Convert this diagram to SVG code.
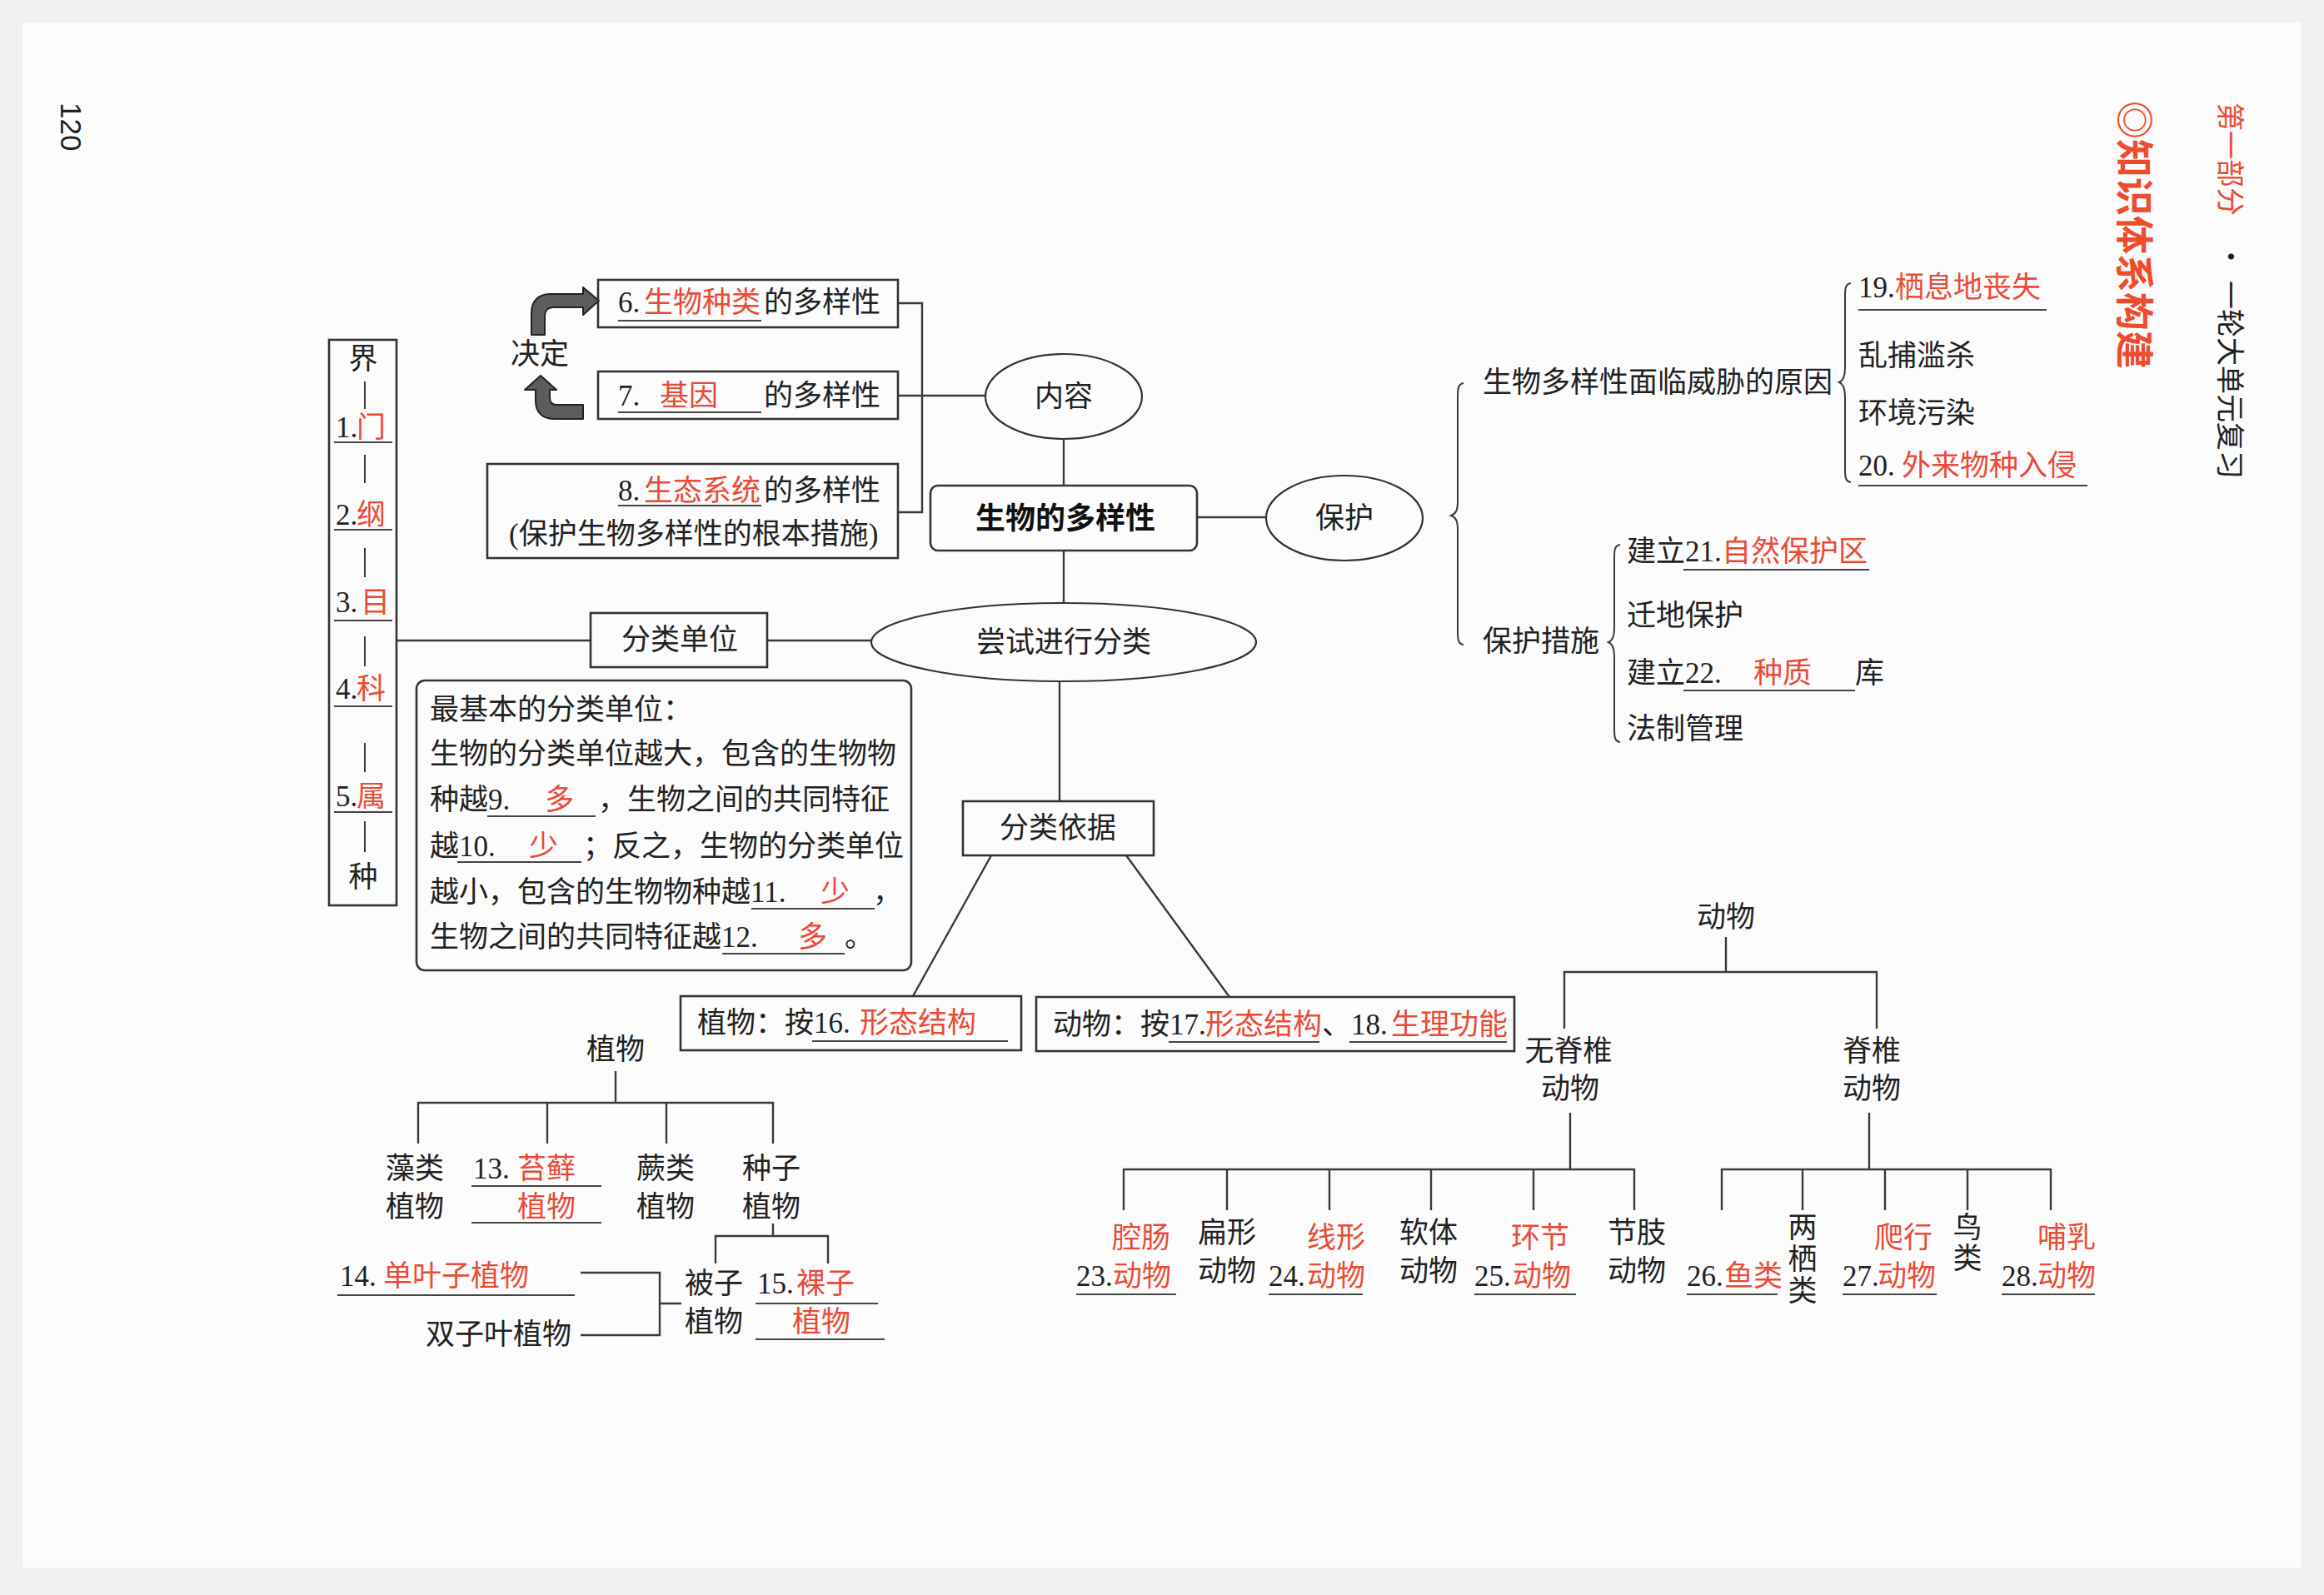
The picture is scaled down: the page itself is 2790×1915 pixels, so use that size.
<svg xmlns="http://www.w3.org/2000/svg" width="2790" height="1915" viewBox="0 0 2790 1915">
<style>
text { font-family: "Liberation Serif", "Noto Sans CJK SC", serif; font-size: 35px; fill: #222; }
.r { fill: #e94b35; font-family: "Noto Sans CJK SC", sans-serif; }
.m { text-anchor: middle; }
.sans { font-family: "Noto Sans CJK SC", sans-serif; }
.vt { writing-mode: vertical-rl; text-orientation: upright; letter-spacing: 3px; font-family: "Noto Sans CJK SC", sans-serif; }
.box { fill: none; stroke: #333; stroke-width: 2.6; }
.ell { fill: none; stroke: #333; stroke-width: 2.2; }
.ln { fill: none; stroke: #3a3a3a; stroke-width: 2.4; }
.ul { fill: none; stroke: #444; stroke-width: 2; }
.arrow { fill: #5c5c5c; stroke: #222; stroke-width: 2; stroke-linejoin: round; }
</style>
<rect x="0" y="0" width="2790" height="1915" fill="#f1f1f1"/>
<rect x="27" y="27" width="2735" height="1855" fill="#fcfcfc"/>

<g id="header">
  <text transform="translate(73,123) rotate(90)" style="font-family:'Liberation Sans',sans-serif;font-size:35px">120</text>
  <text transform="translate(2665,123) rotate(90)" class="sans" style="font-size:34px"><tspan fill="#e94b35">第一部分</tspan><tspan x="168">·</tspan><tspan x="214">一轮大单元复习</tspan></text>
  <text transform="translate(2546,121) rotate(90)" class="sans" style="font-size:46px;font-weight:700;fill:#ef4c2e">◎知识体系构建</text>
</g>

<g id="connectors">
  <path class="ln" d="M1078 364 H1107 V615 H1078"/>
  <path class="ln" d="M1078 475 H1183"/>
  <path class="ln" d="M1277 527 V583"/>
  <path class="ln" d="M1277 661 V724"/>
  <path class="ln" d="M1437 621 H1520"/>
  <path class="ln" d="M476 769 H709"/>
  <path class="ln" d="M921 769 H1046"/>
  <path class="ln" d="M1272 818 V962"/>
  <path class="ln" d="M1190 1027 L1096 1196"/>
  <path class="ln" d="M1352 1027 L1476 1197"/>
  <path class="arrow" d="M638 402 L638 376 C638 362 646 353 660 353 L700 353 L700 345 L719 361 L700 378 L700 369 L664 369 C658 369 654 373 654 380 L654 402 Z"/>
  <path class="arrow" d="M700 486 L668 486 C663 486 660 483 660 477 L660 468 L668 468 L649 451 L630 468 L643 468 L643 481 C643 495 651 503 666 503 L700 503 Z"/>
</g>

<g id="kingdom-column">
  <rect class="box" x="395" y="408" width="81" height="679"/>
  <text class="m" x="436" y="443">界</text>
  <path class="ln" d="M438 458 V491 M438 546 V580 M438 658 V693 M438 764 V800 M438 892 V927 M438 986 V1023" style="stroke-width:2"/>
  <text y="525"><tspan x="403">1.</tspan><tspan class="r" x="428">门</tspan></text>
  <text y="630"><tspan x="403">2.</tspan><tspan class="r" x="428">纲</tspan></text>
  <text y="735"><tspan x="403">3.</tspan><tspan class="r" x="433">目</tspan></text>
  <text y="839"><tspan x="403">4.</tspan><tspan class="r" x="428">科</tspan></text>
  <text y="968"><tspan x="403">5.</tspan><tspan class="r" x="428">属</tspan></text>
  <path class="ul" d="M401 531 H471 M401 636 H471 M401 745 H471 M401 848 H471 M401 975 H471"/>
  <text class="m" x="436" y="1065">种</text>
</g>

<g id="decide">
  <text x="613" y="437">决定</text>
</g>

<g id="species-diversity">
  <rect class="box" x="718" y="336" width="360" height="57"/>
  <text y="375"><tspan x="742">6.</tspan><tspan class="r" x="773">生物种类</tspan><tspan x="917">的多样性</tspan></text>
  <path class="ul" d="M742 385 H914"/>
</g>

<g id="gene-diversity">
  <rect class="box" x="718" y="446" width="360" height="57"/>
  <text y="487"><tspan x="742">7.</tspan><tspan class="r" x="792">基因</tspan><tspan x="917">的多样性</tspan></text>
  <path class="ul" d="M742 495 H914"/>
</g>

<g id="ecosystem-diversity">
  <rect class="box" x="585" y="557" width="493" height="113"/>
  <text y="601"><tspan x="742">8.</tspan><tspan class="r" x="773">生态系统</tspan><tspan x="917">的多样性</tspan></text>
  <path class="ul" d="M742 607 H914"/>
  <text x="611" y="653">(保护生物多样性的根本措施)</text>
</g>

<g id="content">
  <ellipse class="ell" cx="1277" cy="476" rx="94" ry="51"/>
  <text class="m" x="1277" y="488">内容</text>
</g>

<g id="biodiversity">
  <rect class="box" x="1117" y="583" width="320" height="78" rx="9"/>
  <text class="m sans" x="1279" y="635" style="font-weight:700;font-size:36px;fill:#111">生物的多样性</text>
</g>

<g id="protect">
  <ellipse class="ell" cx="1614" cy="622" rx="94" ry="51"/>
  <text class="m" x="1614" y="634">保护</text>
</g>

<g id="classify">
  <ellipse class="ell" cx="1277" cy="771" rx="231" ry="47"/>
  <text class="m" x="1277" y="783">尝试进行分类</text>
</g>

<g id="unit">
  <rect class="box" x="709" y="736" width="212" height="65"/>
  <text class="m" x="816" y="780">分类单位</text>
</g>

<g id="unit-note">
  <rect class="box" x="500" y="817" width="594" height="348" rx="10"/>
  <text x="516" y="864">最基本的分类单位：</text>
  <text x="516" y="917">生物的分类单位越大，包含的生物物</text>
  <text y="972"><tspan x="516">种越9.</tspan><tspan class="r" x="654">多</tspan><tspan x="718">，生物之间的共同特征</tspan></text>
  <path class="ul" d="M585 980 H715"/>
  <text y="1028"><tspan x="516">越10.</tspan><tspan class="r" x="635">少</tspan><tspan x="700">；反之，生物的分类单位</tspan></text>
  <path class="ul" d="M549 1035 H698"/>
  <text y="1083"><tspan x="516">越小，包含的生物物种越11.</tspan><tspan class="r" x="985">少</tspan><tspan x="1048">，</tspan></text>
  <path class="ul" d="M902 1091 H1050"/>
  <text y="1137"><tspan x="516">生物之间的共同特征越12.</tspan><tspan class="r" x="958">多</tspan><tspan x="1014">。</tspan></text>
  <path class="ul" d="M867 1145 H1014"/>
</g>

<g id="basis">
  <rect class="box" x="1156" y="962" width="229" height="65"/>
  <text class="m" x="1270" y="1006">分类依据</text>
</g>

<g id="plant-basis">
  <rect class="box" x="817" y="1196" width="409" height="65"/>
  <text y="1240"><tspan x="837">植物：按16.</tspan><tspan class="r" x="1032">形态结构</tspan></text>
  <path class="ul" d="M975 1250 H1210"/>
</g>

<g id="animal-basis">
  <rect class="box" x="1244" y="1197" width="574" height="65"/>
  <text y="1242"><tspan x="1264">动物：按17.</tspan><tspan class="r" x="1447">形态结构</tspan><tspan x="1587">、18.</tspan><tspan class="r" x="1670">生理功能</tspan></text>
  <path class="ul" d="M1403 1251 H1584 M1620 1251 H1809"/>
</g>

<g id="plant-tree">
  <path class="ln" d="M739 1286 V1324 M502 1373 V1324 H928 V1373 M657 1324 V1373 M800 1324 V1373 M928 1469 V1484 M859 1517 V1484 H994 V1517 M697 1528 H792 V1603 H697 M792 1565 H818"/>
  <text class="m" x="739" y="1272">植物</text>
  <text class="m" x="498" y="1415">藻类</text>
  <text class="m" x="498" y="1461">植物</text>
  <text y="1415"><tspan x="568">13.</tspan><tspan class="r" x="621">苔藓</tspan></text>
  <text class="r" x="621" y="1461">植物</text>
  <path class="ul" d="M566 1424 H722 M566 1468 H722"/>
  <text class="m" x="799" y="1415">蕨类</text>
  <text class="m" x="799" y="1461">植物</text>
  <text class="m" x="926" y="1415">种子</text>
  <text class="m" x="926" y="1461">植物</text>
  <text class="m" x="857" y="1553">被子</text>
  <text class="m" x="857" y="1599">植物</text>
  <text y="1553"><tspan x="909">15.</tspan><tspan class="r" x="956">裸子</tspan></text>
  <text class="r" x="951" y="1599">植物</text>
  <path class="ul" d="M907 1565 H1054 M907 1608 H1062"/>
  <text y="1544"><tspan x="408">14.</tspan><tspan class="r" x="460">单叶子植物</tspan></text>
  <path class="ul" d="M405 1555 H690"/>
  <text x="511" y="1614">双子叶植物</text>
</g>

<g id="animal-tree">
  <path class="ln" d="M2072 1125 V1167 M1878 1235 V1167 H2253 V1235 M1885 1336 V1404 M1349 1453 V1404 H1962 V1453 M1473 1404 V1453 M1596 1404 V1453 M1718 1404 V1453 M1841 1404 V1453 M2244 1336 V1404 M2067 1453 V1404 H2462 V1453 M2164 1404 V1453 M2263 1404 V1453 M2362 1404 V1453"/>
  <text class="m" x="2072" y="1113">动物</text>
  <text class="m" x="1883" y="1274">无脊椎</text>
  <text class="m" x="1885" y="1319">动物</text>
  <text class="m" x="2247" y="1274">脊椎</text>
  <text class="m" x="2247" y="1319">动物</text>
  <text class="r" x="1335" y="1498">腔肠</text>
  <text y="1544"><tspan x="1292">23.</tspan><tspan class="r" x="1336">动物</tspan></text>
  <text x="1438" y="1492">扁形</text>
  <text x="1438" y="1538">动物</text>
  <text class="r" x="1569" y="1498">线形</text>
  <text y="1544"><tspan x="1523">24.</tspan><tspan class="r" x="1569">动物</tspan></text>
  <text x="1680" y="1492">软体</text>
  <text x="1680" y="1538">动物</text>
  <text class="r" x="1814" y="1498">环节</text>
  <text y="1544"><tspan x="1770">25.</tspan><tspan class="r" x="1816">动物</tspan></text>
  <text x="1930" y="1492">节肢</text>
  <text x="1930" y="1538">动物</text>
  <text y="1544"><tspan x="2025">26.</tspan><tspan class="r" x="2070">鱼类</tspan></text>
  <text class="vt" x="2164" y="1455">两栖类</text>
  <text class="r" x="2250" y="1498">爬行</text>
  <text y="1544"><tspan x="2212">27.</tspan><tspan class="r" x="2254">动物</tspan></text>
  <text class="vt" x="2362" y="1455" style="letter-spacing:2px">鸟类</text>
  <text class="r" x="2446" y="1498">哺乳</text>
  <text y="1544"><tspan x="2403">28.</tspan><tspan class="r" x="2446">动物</tspan></text>
  <path class="ul" d="M1292 1554 H1412 M1523 1554 H1636 M1770 1554 H1892 M2025 1554 H2134 M2212 1554 H2325 M2403 1554 H2515"/>
</g>

<g id="protection-detail">
  <path class="ln" style="stroke-width:2" d="M1757 460 C1750 461 1750 468 1750 478 L1750 602 C1750 612 1748 617 1742 619 C1748 621 1750 626 1750 636 L1750 757 C1750 767 1750 773 1757 774"/>
  <text x="1780" y="471">生物多样性面临威胁的原因</text>
  <path class="ln" style="stroke-width:2" d="M2222 340 C2215 341 2215 347 2215 356 L2215 442 C2215 452 2213 457 2208 459 C2213 461 2215 466 2215 476 L2215 562 C2215 572 2215 578 2222 579"/>
  <text y="357"><tspan x="2231">19.</tspan><tspan class="r" x="2275">栖息地丧失</tspan></text>
  <path class="ul" d="M2231 372 H2457"/>
  <text x="2231" y="439">乱捕滥杀</text>
  <text x="2231" y="508">环境污染</text>
  <text y="571"><tspan x="2231">20.</tspan><tspan class="r" x="2283">外来物种入侵</tspan></text>
  <path class="ul" d="M2231 583 H2506"/>
  <text x="1780" y="782">保护措施</text>
  <path class="ln" style="stroke-width:2" d="M1945 654 C1938 655 1938 661 1938 670 L1938 754 C1938 764 1936 769 1931 771 C1936 773 1938 778 1938 788 L1938 874 C1938 884 1938 890 1945 891"/>
  <text y="674"><tspan x="1953">建立21.</tspan><tspan class="r" x="2067">自然保护区</tspan></text>
  <path class="ul" d="M2021 684 H2244"/>
  <text x="1953" y="751">迁地保护</text>
  <text y="820"><tspan x="1953">建立22.</tspan><tspan class="r" x="2105">种质</tspan><tspan x="2227">库</tspan></text>
  <path class="ul" d="M2021 829 H2227"/>
  <text x="1953" y="887">法制管理</text>
</g>
</svg>
